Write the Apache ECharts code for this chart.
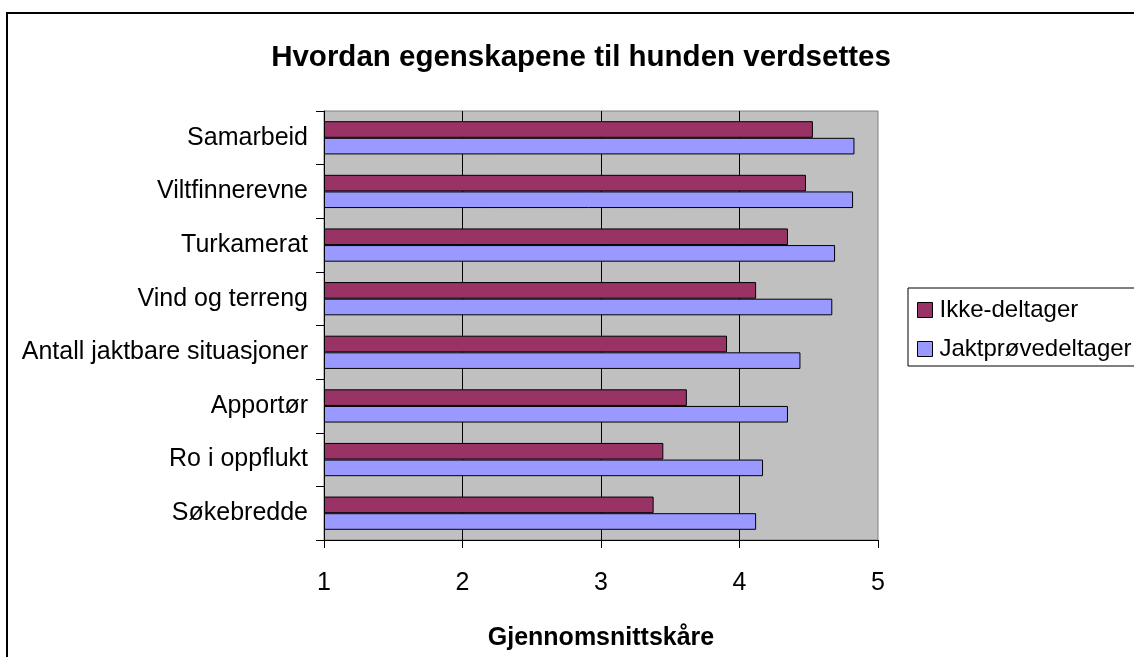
<!DOCTYPE html>
<html>
<head>
<meta charset="utf-8">
<script src="https://cdn.jsdelivr.net/npm/echarts@6/dist/echarts.min.js"></script>
<style>
  html, body { margin: 0; padding: 0; background: #fff; }
  #chart { width: 1134px; height: 657px; }
</style>
</head>
<body>
<div id="chart"></div>
<script>
// kategorier, ovenfra og ned
const categories = [
  "Samarbeid",
  "Viltfinnerevne",
  "Turkamerat",
  "Vind og terreng",
  "Antall jaktbare situasjoner",
  "Apportør",
  "Ro i oppflukt",
  "Søkebredde",
];
const ikkeDeltager = [4.53, 4.48, 4.35, 4.12, 3.91, 3.62, 3.45, 3.38];
const jaktproveDeltager = [4.83, 4.82, 4.69, 4.67, 4.44, 4.35, 4.17, 4.12];
const xTicks = [1, 2, 3, 4, 5];

const font = "Liberation Sans, Arial, sans-serif";

const chart = echarts.init(document.getElementById("chart"));
chart.setOption({
  animation: false,
  backgroundColor: "#fff",
  title: {
    text: "Hvordan egenskapene til hunden verdsettes",
    left: 576,
    top: 38,
    textAlign: "center",
    textStyle: {
      fontFamily: font,
      fontSize: 29.5,
      fontWeight: "bold",
      color: "#000",
    },
  },
  graphic: [
    {
      type: "rect",
      shape: { x: 7, y: 13, width: 1300, height: 800 },
      style: { fill: "none", stroke: "#000", lineWidth: 2 },
      silent: true,
    },
  ],
  legend: {
    orient: "vertical",
    left: 908,
    top: 288,
    padding: [10, 40, 5, 9],
    itemGap: 15,
    itemWidth: 15,
    itemHeight: 15,
    icon: "rect",
    borderColor: "#000",
    borderWidth: 1,
    itemStyle: { borderColor: "#000", borderWidth: 1 },
    textStyle: { fontFamily: font, fontSize: 24, color: "#000", padding: [0, 0, 0, 2] },
    data: ["Ikke-deltager", "Jaktprøvedeltager"],
  },
  grid: {
    left: 324,
    right: 256,
    top: 111,
    bottom: 117,
    show: true,
    backgroundColor: "#C0C0C0",
    borderColor: "#808080",
    borderWidth: 1,
  },
  xAxis: {
    type: "value",
    min: 1,
    max: 5,
    interval: 1,
    startValue: 1,
    name: "Gjennomsnittskåre",
    nameLocation: "middle",
    nameGap: 86,
    nameTextStyle: { fontFamily: font, fontSize: 25, fontWeight: "bold", color: "#000" },
    axisLine: { show: true, lineStyle: { color: "#000", width: 1 } },
    axisTick: { show: true, length: 8, lineStyle: { color: "#000" } },
    axisLabel: {
      margin: 31,
      fontFamily: font,
      fontSize: 25,
      color: "#000",
      formatter: (v) => (xTicks.includes(v) ? String(v) : ""),
    },
    splitLine: {
      show: true,
      showMinLine: false,
      showMaxLine: false,
      lineStyle: { color: "#000", width: 1 },
    },
  },
  yAxis: {
    type: "category",
    inverse: true,
    data: categories,
    axisLine: { show: true, lineStyle: { color: "#000", width: 1 } },
    axisTick: { show: true, length: 8, lineStyle: { color: "#000" } },
    axisLabel: { margin: 16, fontFamily: font, fontSize: 25, color: "#000" },
    splitLine: { show: false },
  },
  series: [
    {
      name: "Ikke-deltager",
      type: "bar",
      data: ikkeDeltager,
      barGap: "0%",
      barCategoryGap: "38%",
      itemStyle: { color: "#993366", borderColor: "#000", borderWidth: 1 },
    },
    {
      name: "Jaktprøvedeltager",
      type: "bar",
      data: jaktproveDeltager,
      barGap: "0%",
      barCategoryGap: "38%",
      itemStyle: { color: "#9999FF", borderColor: "#000", borderWidth: 1 },
    },
  ],
});
</script>
</body>
</html>
